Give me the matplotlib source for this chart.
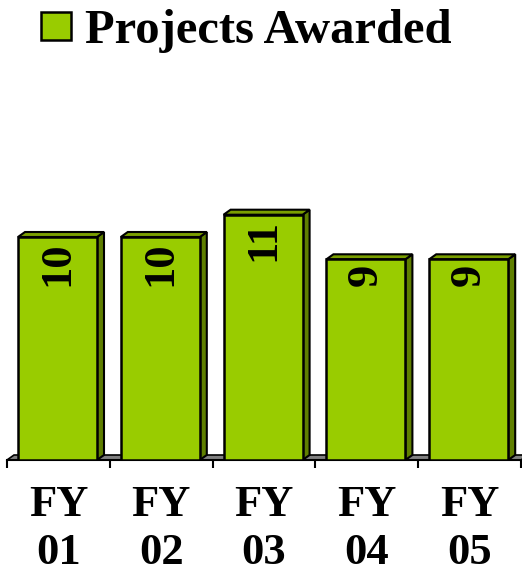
import matplotlib.pyplot as plt
from matplotlib.patches import Polygon

years = ['FY\n01', 'FY\n02', 'FY\n03', 'FY\n04', 'FY\n05']
awarded = [10, 10, 11, 9, 9]
series_name = 'Projects Awarded'

plt.rcParams['font.family'] = ['Liberation Serif', 'DejaVu Serif']
plt.rcParams['font.weight'] = 'bold'

W, H = 522, 576
fig = plt.figure(figsize=(W / 100, H / 100), dpi=100)
# axes: x 0..5 spans px 7..521, y=0 at px 460 from top
ax = fig.add_axes([7 / W, 116 / H, 514 / W, 360 / H])
ymax = 360 / 22.3
ax.set_xlim(0, 5)
ax.set_ylim(0, ymax)

front = '#99CC00'
side = '#5F7F00'
top = '#7A9E00'
dx = 7 / 102.8
dy = 5 / 22.3
bw = 79 / 102.8
offs = 11 / 102.8

# floor
ax.add_patch(Polygon([(0, 0), (5, 0), (5 + dx, dy), (dx, dy)], closed=True,
                     facecolor='#808080', edgecolor='black', lw=1.2, zorder=1,
                     clip_on=False))

xs = [i + offs for i in range(len(awarded))]
ax.bar(xs, awarded, width=bw, align='edge', color=front, edgecolor='black',
       linewidth=1.8, zorder=3, label=series_name)
for x, v in zip(xs, awarded):
    ax.add_patch(Polygon([(x + bw, 0), (x + bw + dx, dy), (x + bw + dx, v + dy), (x + bw, v)],
                         closed=True, facecolor=side, edgecolor='black', lw=1.5, zorder=2))
    ax.add_patch(Polygon([(x, v), (x + dx, v + dy), (x + bw + dx, v + dy), (x + bw, v)],
                         closed=True, facecolor=top, edgecolor='black', lw=1.5, zorder=2))
    ax.text(x + bw / 2, v - 0.2, str(v), rotation=90, ha='center', va='top',
            fontsize=32, fontweight='bold', zorder=4)

for s in ['top', 'right', 'left']:
    ax.spines[s].set_visible(False)
ax.spines['bottom'].set_linewidth(1.5)
ax.set_yticks([])
ax.set_xticks(range(6))
ax.set_xticklabels([])
ax.tick_params(axis='x', which='major', length=6, width=1.5, direction='out')
ax.set_xticks([i + 0.5 for i in range(5)], minor=True)
ax.set_xticklabels(years, minor=True, fontsize=32, fontweight='bold', linespacing=1.25)
ax.tick_params(axis='x', which='minor', length=0, pad=18)

fig.legend(loc='center', bbox_to_anchor=(246.5 / W, 1 - 31 / H), frameon=False,
           prop={'size': 35, 'weight': 'bold'}, handlelength=0.6, handleheight=0.52,
           handletextpad=0.3)

fig.savefig('out.png', dpi=100)
